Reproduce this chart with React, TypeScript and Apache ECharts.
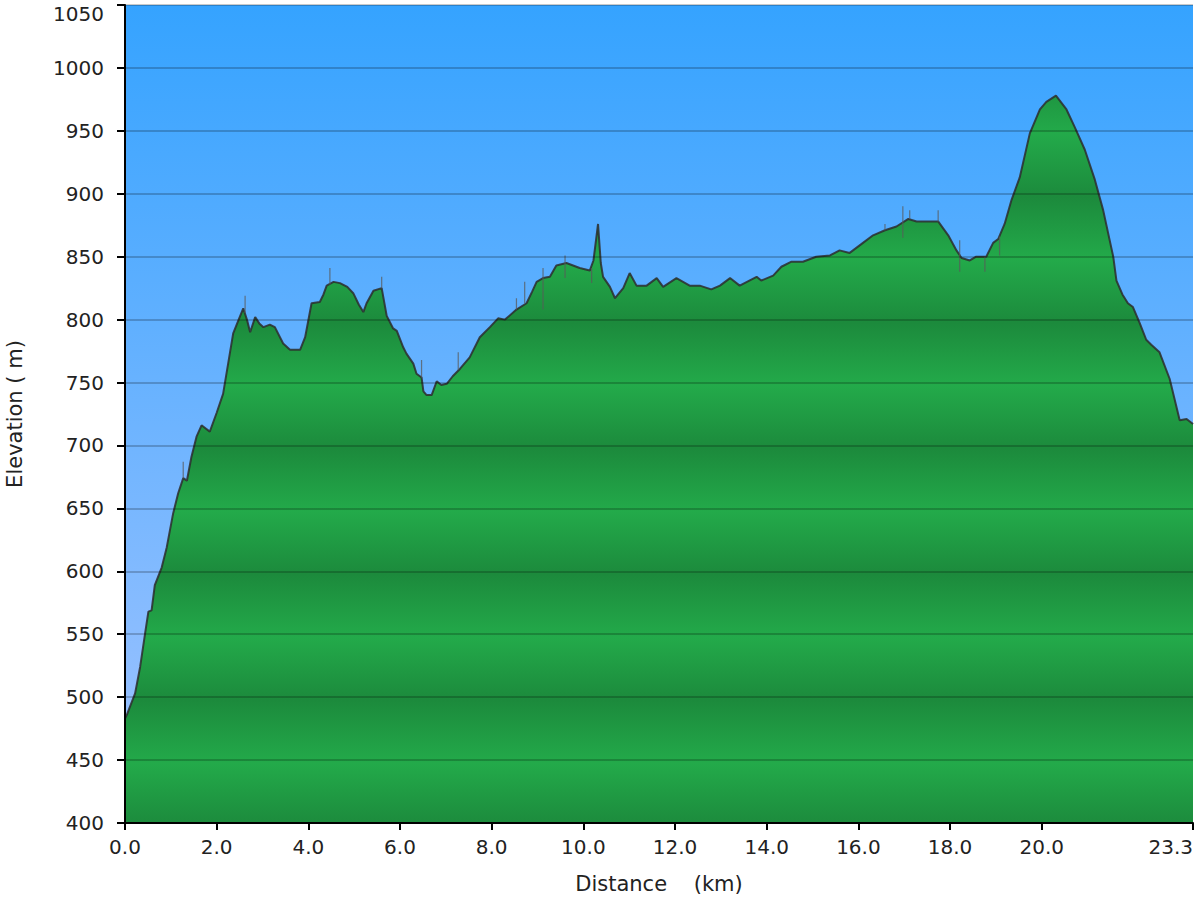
import React, { useEffect, useRef } from "react";
import * as echarts from "echarts";

// Elevation profile: distance (km) and elevation (m)
const distanceKm = [
  0.0, 0.04, 0.22, 0.33, 0.44, 0.51, 0.58, 0.65, 0.8, 0.91, 1.05, 1.16, 1.27, 1.35, 1.45, 1.56, 1.67, 1.85,
  2.0, 2.14, 2.25, 2.36, 2.48, 2.58, 2.66, 2.73, 2.84, 2.93, 3.02, 3.16, 3.27, 3.45, 3.6, 3.82, 3.93,
  4.07, 4.25, 4.33, 4.4, 4.55, 4.69, 4.85, 4.98, 5.1, 5.2, 5.27, 5.42, 5.6, 5.71, 5.85, 5.93, 6.07,
  6.14, 6.29, 6.36, 6.47, 6.51, 6.58, 6.69, 6.8, 6.9, 7.02, 7.15, 7.31, 7.52, 7.74, 7.96, 8.14, 8.29,
  8.54, 8.76, 8.88, 8.98, 9.12, 9.27, 9.41, 9.63, 9.92, 10.14, 10.22, 10.32, 10.38, 10.43, 10.58,
  10.69, 10.87, 11.01, 11.16, 11.38, 11.6, 11.74, 12.03, 12.32, 12.54, 12.79, 12.98, 13.2, 13.41,
  13.78, 13.88, 14.14, 14.32, 14.54, 14.79, 15.08, 15.38, 15.59, 15.81, 16.1, 16.32, 16.58, 16.83,
  17.09, 17.27, 17.56, 17.74, 17.96, 18.14, 18.25, 18.43, 18.57, 18.79, 18.94, 19.05, 19.19, 19.34,
  19.52, 19.74, 19.96, 20.1, 20.31, 20.54, 20.72, 20.94, 21.16, 21.34, 21.56, 21.63, 21.76, 21.88,
  21.99, 22.14, 22.28, 22.39, 22.57, 22.79, 23.01, 23.16, 23.3,
];
const elevationM = [
  483, 486, 503, 524, 551, 568, 569, 589, 603, 619, 646, 662, 674, 672, 691, 707, 716, 711,
  726, 741, 765, 789, 800, 809, 800, 790, 802, 797, 794, 796, 794, 781, 776, 776, 786,
  813, 814, 820, 827, 830, 829, 826, 821, 812, 806, 813, 823, 825, 803, 793, 791, 778,
  773, 765, 757, 754, 743, 740, 740, 751, 748, 749, 755, 761, 770, 786, 794, 801, 800,
  808, 813, 822, 830, 833, 834, 843, 845, 841, 839, 847, 876, 845, 834, 826,
  817, 825, 837, 827, 827, 833, 826, 833, 827, 827, 824, 827, 833, 827,
  834, 831, 835, 842, 846, 846, 850, 851, 855, 853, 861, 867, 871, 874,
  880, 878, 878, 878, 867, 855, 849, 847, 850, 850, 861, 864, 876, 895,
  913, 948, 967, 973, 978, 967, 953, 935, 911, 887, 850, 831, 820, 813,
  810, 797, 784, 780, 774, 753, 720, 721, 717,
];

// Thin noise spikes of the raw recording
const spikeKm = [1.27, 2.62, 4.47, 5.6, 6.47, 7.27, 8.54, 8.72, 9.12, 9.6, 10.18, 16.58, 16.97, 17.12, 17.74, 18.21, 18.76, 19.08];
const spikeLow = [674, 805, 828, 825, 754, 760, 808, 813, 808, 833, 829, 871, 865, 880, 878, 838, 838, 851];
const spikeHigh = [687, 819, 841, 834, 768, 774, 817, 830, 841, 851, 841, 876, 890, 887, 887, 863, 850, 866];

const xTickValues = [0, 2, 4, 6, 8, 10, 12, 14, 16, 18, 20, 23.3];
const xMin = 0;
const xMax = 23.3;
const yMin = 400;
const yMax = 1050;
const yStep = 50;

export default function App() {
  const ref = useRef<HTMLDivElement>(null);

  useEffect(() => {
    const chart = echarts.init(ref.current!, null, { renderer: "svg" });
    const gridTop = 5;
    const gridBottom = 77;
    const plotTop = gridTop;
    const plotBottom = 900 - gridBottom;

    const DARK = "#1c8a3c";
    const LIGHT = "#23aa4a";
    const stops: { offset: number; color: string }[] = [];
    for (let v = yMax; v >= yMin; v -= yStep) {
      const off = (yMax - v) / (yMax - yMin);
      const dark = Math.round((v - yMin) / yStep) % 2 === 0;
      stops.push({ offset: off, color: dark ? DARK : LIGHT });
    }
    const bandFill = new echarts.graphic.LinearGradient(0, plotTop + 3, 0, plotBottom + 3, stops, true);

    const profile = distanceKm.map((d, i) => [d, elevationM[i]]);
    const spikes: any[] = [];
    spikeKm.forEach((d, i) => {
      spikes.push([d, spikeLow[i]]);
      spikes.push([d, spikeHigh[i]]);
      spikes.push([d, "-"]);
    });

    const font = "DejaVu Sans";

    chart.setOption({
      animation: false,
      grid: {
        left: 125,
        right: 7,
        top: gridTop,
        bottom: gridBottom,
        containLabel: false,
        outerBoundsMode: "none",
        show: true,
        borderWidth: 0,
        backgroundColor: new echarts.graphic.LinearGradient(0, 0, 0, 1, [
          { offset: 0, color: "#35a3ff" },
          { offset: 1, color: "#a3c4ff" },
        ]),
      },
      xAxis: {
        type: "value",
        min: xMin,
        max: xMax,
        z: 3,
        name: "Distance    (km)",
        nameLocation: "middle",
        nameGap: 50,
        nameTextStyle: { fontFamily: font, fontSize: 21, color: "#222" },
        axisLine: { show: true, onZero: false, lineStyle: { color: "#000", width: 2 } },
        axisTick: { show: true, length: 7, customValues: xTickValues, lineStyle: { color: "#000", width: 2 } },
        axisLabel: {
          customValues: xTickValues,
          formatter: (v: number) => v.toFixed(1),
          fontFamily: font,
          fontSize: 20,
          color: "#222",
          margin: 14,
          alignMaxLabel: "right",
        },
        splitLine: { show: false },
      },
      yAxis: {
        type: "value",
        min: yMin,
        max: yMax,
        interval: yStep,
        z: 3,
        name: "Elevation ( m)",
        nameLocation: "middle",
        nameGap: 100,
        nameTextStyle: { fontFamily: font, fontSize: 21, color: "#222" },
        axisLine: { show: true, lineStyle: { color: "#000", width: 2 } },
        axisTick: { show: true, length: 8, lineStyle: { color: "#000", width: 2 } },
        axisLabel: {
          fontFamily: font,
          fontSize: 20,
          color: "#222",
          margin: 21,
          formatter: (v: number) => (v === yMax ? "{top|" + v + "}" : String(v)),
          rich: {
            top: { fontFamily: font, fontSize: 20, color: "#222", padding: [18, 0, 0, 0] },
          },
        },
        splitLine: { show: true, lineStyle: { color: "rgba(0,0,0,0.28)", width: 1.5 } },
      },
      series: [
        {
          name: "Elevation",
          type: "line",
          data: profile,
          showSymbol: false,
          symbol: "none",
          lineStyle: { color: "rgba(45,45,45,0.85)", width: 2 },
          areaStyle: { color: bandFill, opacity: 1, origin: "start" },
          z: 2,
        },
        {
          name: "Raw",
          type: "line",
          data: spikes,
          showSymbol: false,
          symbol: "none",
          connectNulls: false,
          lineStyle: { color: "rgba(90,90,90,0.75)", width: 1.2 },
          z: 2,
        },
      ],
    });

    return () => chart.dispose();
  }, []);

  return <div ref={ref} style={{ position: "absolute", left: 0, top: 0, width: 1200, height: 900 }} />;
}
